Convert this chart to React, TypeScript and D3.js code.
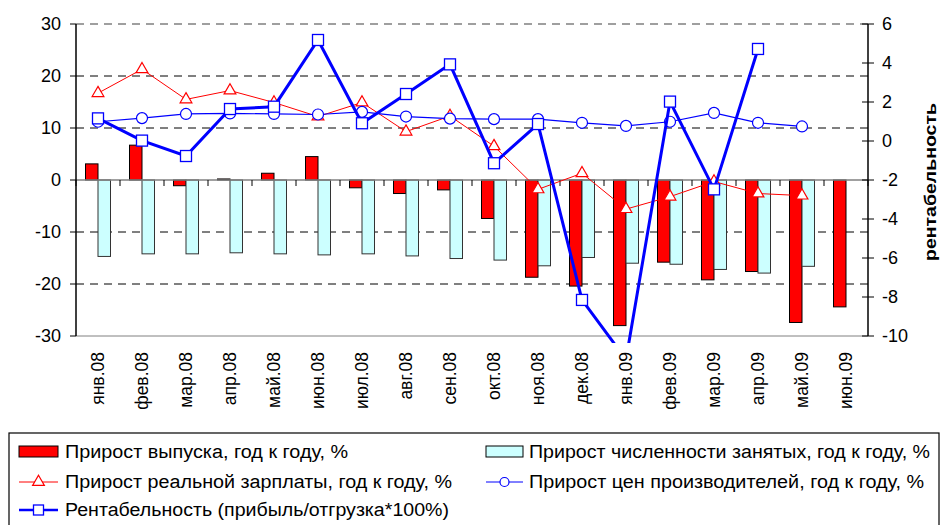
import { useEffect } from "react";
import * as d3 from "d3";

const months = [
	"янв.08", "фев.08", "мар.08", "апр.08", "май.08", "июн.08", "июл.08", "авг.08", "сен.08",
	"окт.08", "ноя.08", "дек.08", "янв.09", "фев.09", "мар.09", "апр.09", "май.09", "июн.09",
];

// прирост выпуска, % (левая ось)
const outputGrowth = [3.1, 6.7, -1.1, 0.2, 1.3, 4.5, -1.5, -2.6, -1.9, -7.4, -18.7, -20.4, -28.0, -15.8, -19.2, -17.6, -27.4, -24.4];
// прирост численности занятых, %
const employment: (number | null)[] = [-14.7, -14.2, -14.2, -14.0, -14.2, -14.4, -14.2, -14.6, -15.1, -15.4, -16.5, -14.9, -16.0, -16.2, -17.2, -17.9, -16.6, null];
// прирост реальной зарплаты, %
const realWage: (number | null)[] = [16.7, 21.3, 15.5, 17.2, 14.9, 12.2, 14.9, 9.3, 12.3, 6.5, -1.8, 1.3, -5.6, -3.2, -0.3, -2.6, -3.0, null];
// прирост цен производителей, %
const producerPrices: (number | null)[] = [11.2, 11.9, 12.7, 12.8, 12.7, 12.6, 13.1, 12.2, 11.8, 11.7, 11.7, 11.0, 10.4, 11.2, 12.9, 11.0, 10.3, null];
// рентабельность (правая ось)
const profitability: (number | null)[] = [1.16, 0.02, -0.77, 1.64, 1.76, 5.18, 0.91, 2.41, 3.93, -1.14, 0.87, -8.15, -11.2, 2.02, -2.48, 4.72, null, null];

const leftTicks = [-30, -20, -10, 0, 10, 20, 30];
const rightTicks = [-10, -8, -6, -4, -2, 0, 2, 4, 6];

const legendLabels = [
	"Прирост выпуска, год к году, %",
	"Прирост численности занятых, год к году, %",
	"Прирост реальной зарплаты, год к году, %",
	"Прирост цен производителей, год к году, %",
	"Рентабельность (прибыль/отгрузка*100%)",
];

const FONT = "'Liberation Sans', Arial, sans-serif";

export default function App() {
	useEffect(() => {
		document.body.style.margin = "0";
	}, []);

	const left = 76, right = 868, top = 24, bottom = 336;

	const x0 = d3.scaleBand<string>()
		.domain(months)
		.range([left, right])
		.paddingInner(19 / 44)
		.paddingOuter(19 / 88);
	const x1 = d3.scaleBand<string>().domain(["out", "emp"]).range([0, x0.bandwidth()]);
	const cx = (m: string) => (x0(m) || 0) + x0.bandwidth() / 2;
	const step = x0.step();

	const yL = d3.scaleLinear().domain([-30, 30]).range([bottom, top]);
	const yR = d3.scaleLinear().domain([-10, 6]).range([bottom, top]);

	const lineL = d3.line<[string, number | null]>()
		.defined(d => d[1] !== null)
		.x(d => cx(d[0]))
		.y(d => yL(d[1] as number));
	const lineR = d3.line<[string, number | null]>()
		.defined(d => d[1] !== null)
		.x(d => cx(d[0]))
		.y(d => yR(d[1] as number));

	const zip = (arr: (number | null)[]) => months.map((m, i) => [m, arr[i]] as [string, number | null]);

	const tri = d3.symbol().type(d3.symbolTriangle).size(60)() as string;

	const boundaries = d3.range(months.length + 1).map(i => left + i * step);

	// ширины подписей легенды, как на картинке
	const legendWidths = [283, 401, 387, 395, 384];

	return (
		<svg width={942} height={525} style={{ display: "block", fontFamily: FONT }}>
			<defs>
				<clipPath id="plot">
					<rect x={left} y={0} width={right - left} height={bottom + 7} />
				</clipPath>
			</defs>
			<rect width={942} height={525} fill="#fff" />

			{/* сетка */}
			{leftTicks.filter(t => t !== 0 && t !== -30).map(t => (
				<line key={t} x1={left} x2={right} y1={yL(t)} y2={yL(t)}
					stroke={t === 30 ? "#808080" : "#000"} strokeWidth={t === 30 ? 1.5 : 1} strokeDasharray="8,6" />
			))}
			<line x1={left} x2={right} y1={bottom} y2={bottom} stroke="#808080" />

			{/* столбцы */}
			{months.map((m, i) => (
				<g key={m}>
					<rect x={(x0(m) || 0) + (x1("out") || 0)} width={x1.bandwidth()}
						y={yL(Math.max(0, outputGrowth[i]))} height={Math.abs(yL(outputGrowth[i]) - yL(0))}
						fill="#ff0000" stroke="#000" strokeWidth={1} />
					{employment[i] !== null && (
						<rect x={(x0(m) || 0) + (x1("emp") || 0)} width={x1.bandwidth()}
							y={yL(Math.max(0, employment[i] as number))} height={Math.abs(yL(employment[i] as number) - yL(0))}
							fill="#ccffff" stroke="#333" strokeWidth={1} />
					)}
				</g>
			))}

			{/* ось X на нуле */}
			<line x1={left} x2={right} y1={yL(0)} y2={yL(0)} stroke="#808080" strokeWidth={1.5} />
			{boundaries.map(b => (
				<line key={b} x1={b} x2={b} y1={yL(0)} y2={yL(0) + 6} stroke="#000" />
			))}

			{/* линии */}
			<path d={lineL(zip(realWage)) || ""} fill="none" stroke="#ff0000" strokeWidth={1} />
			{zip(realWage).filter(d => d[1] !== null).map(d => (
				<path key={d[0]} d={tri} transform={`translate(${cx(d[0])},${yL(d[1] as number)})`}
					fill="#fff" stroke="#ff0000" strokeWidth={1.2} />
			))}

			<path d={lineL(zip(producerPrices)) || ""} fill="none" stroke="#0000ff" strokeWidth={1.2} />
			{zip(producerPrices).filter(d => d[1] !== null).map(d => (
				<circle key={d[0]} cx={cx(d[0])} cy={yL(d[1] as number)} r={5.5}
					fill="#fff" stroke="#0000ff" strokeWidth={1.2} />
			))}

			<g clipPath="url(#plot)">
				<path d={lineR(zip(profitability)) || ""} fill="none" stroke="#0000ff" strokeWidth={3} />
				{zip(profitability).filter(d => d[1] !== null).map(d => (
					<rect key={d[0]} x={cx(d[0]) - 5.5} y={yR(d[1] as number) - 5.5} width={11} height={11}
						fill="#fff" stroke="#0000ff" strokeWidth={1.3} />
				))}
			</g>

			{/* левая ось */}
			<line x1={left} x2={left} y1={top} y2={bottom} stroke="#000" strokeWidth={1.5} />
			{leftTicks.map(t => (
				<g key={t}>
					<line x1={left - 6} x2={left} y1={yL(t)} y2={yL(t)} stroke="#000" />
					<text x={61} y={yL(t)} dy="0.35em" textAnchor="end" fontSize={18}>{t}</text>
				</g>
			))}

			{/* правая ось */}
			<line x1={right} x2={right} y1={top} y2={bottom} stroke="#000" strokeWidth={1.5} />
			{rightTicks.map(t => (
				<g key={t}>
					<line x1={right - 6} x2={right + 6} y1={yR(t)} y2={yR(t)} stroke="#000" />
					<text x={882} y={yR(t)} dy="0.35em" textAnchor="start" fontSize={18}>{t}</text>
				</g>
			))}
			<text transform="translate(936,182) rotate(-90)" textAnchor="middle" fontSize={17} fontWeight="bold"
				textLength={158} lengthAdjust="spacingAndGlyphs">
				рентабельность
			</text>

			{/* подписи месяцев */}
			{months.map(m => (
				<text key={m} transform={`translate(${cx(m) + 6},${bottom + 16}) rotate(-90)`}
					textAnchor="end" fontSize={17.5}>{m}</text>
			))}

			{/* легенда */}
			<g fontSize={18}>
				<rect x={9} y={433} width={930} height={100} fill="#fff" stroke="#000" strokeWidth={1.2} />
				<rect x={19} y={446} width={39} height={11} fill="#ff0000" stroke="#000" />
				<text x={65} y={452} dy="0.35em" textLength={legendWidths[0]} lengthAdjust="spacingAndGlyphs">{legendLabels[0]}</text>

				<rect x={486} y={446} width={37} height={11} fill="#ccffff" stroke="#000" />
				<text x={529} y={452} dy="0.35em" textLength={legendWidths[1]} lengthAdjust="spacingAndGlyphs">{legendLabels[1]}</text>

				<line x1={19} x2={58} y1={482} y2={482} stroke="#ff0000" />
				<path d={tri} transform="translate(38.5,482)" fill="#fff" stroke="#ff0000" strokeWidth={1.2} />
				<text x={65} y={482} dy="0.35em" textLength={legendWidths[2]} lengthAdjust="spacingAndGlyphs">{legendLabels[2]}</text>

				<line x1={486} x2={523} y1={482} y2={482} stroke="#0000ff" />
				<circle cx={504.5} cy={482} r={4.5} fill="#fff" stroke="#0000ff" strokeWidth={1.2} />
				<text x={529} y={482} dy="0.35em" textLength={legendWidths[3]} lengthAdjust="spacingAndGlyphs">{legendLabels[3]}</text>

				<line x1={19} x2={58} y1={510} y2={510} stroke="#0000ff" strokeWidth={2.5} />
				<rect x={33.5} y={505} width={10} height={10} fill="#fff" stroke="#0000ff" strokeWidth={1.3} />
				<text x={65} y={510} dy="0.35em" textLength={legendWidths[4]} lengthAdjust="spacingAndGlyphs">{legendLabels[4]}</text>
			</g>
		</svg>
	);
}
